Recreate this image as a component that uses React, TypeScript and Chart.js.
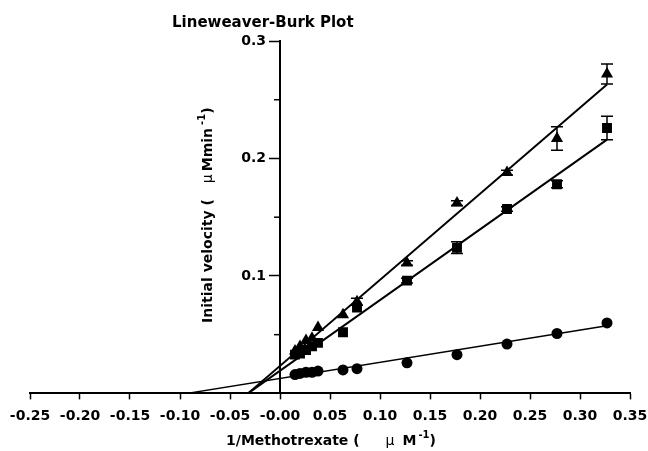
import React, { useEffect, useRef } from 'react';
import { Chart, registerables } from 'chart.js';

Chart.register(...registerables);

// ---- data ----
const xInvConc = [0.327, 0.277, 0.227, 0.177, 0.127, 0.077, 0.063, 0.038, 0.032, 0.026, 0.020, 0.015];
const triangleV = [0.272, 0.217, 0.188, 0.162, 0.111, 0.078, 0.067, 0.056, 0.047, 0.045, 0.040, 0.036];
const triangleErr = [0.0085, 0.010, 0.002, 0.002, 0.002, 0.003, 0, 0, 0, 0, 0, 0];
const squareV = [0.226, 0.178, 0.157, 0.124, 0.096, 0.073, 0.052, 0.043, 0.040, 0.037, 0.034, 0.033];
const squareErr = [0.010, 0.003, 0.002, 0.005, 0.002, 0, 0, 0, 0, 0, 0, 0];
const circleV = [0.060, 0.051, 0.042, 0.033, 0.026, 0.021, 0.020, 0.019, 0.018, 0.018, 0.017, 0.016];
const circleErr = [0, 0, 0, 0, 0, 0, 0, 0, 0, 0, 0, 0];

const triangleFitX = [-0.032, 0.327];
const triangleFitY = [0, 0.263];
const squareFitX = [-0.032, 0.327];
const squareFitY = [0, 0.216];
const circleFitX = [-0.093, 0.33];
const circleFitY = [0, 0.058];

const yLabelValues = [0.1, 0.2, 0.3];
const yMinorValues = [0.05, 0.15, 0.25];

const chartTitle = 'Lineweaver-Burk Plot';

const FAMILY = 'DejaVu Sans';
const tickFont = { family: FAMILY, size: 14, weight: 'bold' as const };

type Run = { t?: string; font?: string; dy?: number; gap?: number };

function runsWidth(ctx: CanvasRenderingContext2D, runs: Run[]) {
  let w = 0;
  for (const r of runs) {
    if (r.gap) { w += r.gap; continue; }
    ctx.font = r.font as string;
    w += ctx.measureText(r.t as string).width;
  }
  return w;
}

function drawRuns(ctx: CanvasRenderingContext2D, runs: Run[], cx: number, cy: number) {
  const w = runsWidth(ctx, runs);
  let x = cx - w / 2;
  ctx.textAlign = 'left';
  ctx.textBaseline = 'middle';
  for (const r of runs) {
    if (r.gap) { x += r.gap; continue; }
    ctx.font = r.font as string;
    ctx.fillText(r.t as string, x, cy + (r.dy || 0));
    x += ctx.measureText(r.t as string).width;
  }
}

const B14 = `bold 14px "${FAMILY}"`;
const N14 = `14px "${FAMILY}"`;
const B10 = `bold 10px "${FAMILY}"`;

const xTitleRuns: Run[] = [
  { t: '1/Methotrexate (', font: B14 },
  { gap: 26 },
  { t: 'μ', font: N14 },
  { gap: 8 },
  { t: 'M', font: B14 },
  { gap: 2 },
  { t: '-1', font: B10, dy: -6 },
  { t: ')', font: B14 },
];

const yTitleRuns: Run[] = [
  { t: 'Initial velocity (', font: B14 },
  { gap: 16 },
  { t: 'μ', font: N14 },
  { gap: 3 },
  { t: 'Mmin', font: B14 },
  { gap: 3 },
  { t: '-1', font: B10, dy: -6 },
  { t: ')', font: B14 },
];

const decorPlugin = {
  id: 'decor',
  afterDatasetsDraw(chart: any) {
    const ctx: CanvasRenderingContext2D = chart.ctx;
    const xs = chart.scales.x;
    const ys = chart.scales.y;
    ctx.save();
    // error bars
    ctx.strokeStyle = '#000';
    ctx.lineWidth = 1.5;
    const series: [number[], number[]][] = [
      [triangleV, triangleErr],
      [squareV, squareErr],
      [circleV, circleErr],
    ];
    for (const [vals, errs] of series) {
      vals.forEach((v, i) => {
        const e = errs[i];
        if (!e) return;
        const px = xs.getPixelForValue(xInvConc[i]);
        const top = ys.getPixelForValue(v + e);
        const bot = ys.getPixelForValue(v - e);
        ctx.beginPath();
        ctx.moveTo(px, top);
        ctx.lineTo(px, bot);
        ctx.moveTo(px - 6, top);
        ctx.lineTo(px + 6, top);
        ctx.moveTo(px - 6, bot);
        ctx.lineTo(px + 6, bot);
        ctx.stroke();
      });
    }
    // minor y ticks
    const axisX = xs.getPixelForValue(0);
    ctx.lineWidth = 1.5;
    for (const m of yMinorValues) {
      const py = ys.getPixelForValue(m);
      ctx.beginPath();
      ctx.moveTo(axisX - 6, py);
      ctx.lineTo(axisX, py);
      ctx.stroke();
    }
    ctx.restore();
  },
  afterDraw(chart: any) {
    const ctx: CanvasRenderingContext2D = chart.ctx;
    const xs = chart.scales.x;
    const ys = chart.scales.y;
    ctx.save();
    ctx.fillStyle = '#000';
    // y tick labels (axis sits inside the plot at x = 0)
    const axisX = xs.getPixelForValue(0);
    ctx.font = B14;
    ctx.textAlign = 'right';
    ctx.textBaseline = 'middle';
    for (const v of yLabelValues) {
      ctx.fillText(v.toFixed(1), axisX - 14, ys.getPixelForValue(v));
    }
    // chart title
    ctx.font = `bold 15px "${FAMILY}"`;
    ctx.textAlign = 'left';
    ctx.textBaseline = 'alphabetic';
    ctx.fillText(chartTitle, xs.getPixelForValue(-0.108), 27);
    // x title
    drawRuns(ctx, xTitleRuns, (xs.left + xs.right) / 2 + 1, 441);
    // y title
    ctx.translate(xs.getPixelForValue(-0.072), (ys.top + ys.bottom) / 2 - 2);
    ctx.rotate(-Math.PI / 2);
    drawRuns(ctx, yTitleRuns, 0, 0);
    ctx.restore();
  },
};

export default function App() {
  const ref = useRef<HTMLCanvasElement | null>(null);
  useEffect(() => {
    if (!ref.current) return;
    const mk = (vals: number[]) => vals.map((y, i) => ({ x: xInvConc[i], y }));
    const fit = (xs: number[], ys: number[]) => xs.map((x, i) => ({ x, y: ys[i] }));
    const chart = new Chart(ref.current, {
      type: 'scatter',
      data: {
        datasets: [
          {
            label: 'triangle',
            data: mk(triangleV),
            pointStyle: 'triangle',
            pointRadius: 7,
            backgroundColor: '#000',
            borderColor: '#000',
            borderWidth: 0,
          },
          {
            label: 'square',
            data: mk(squareV),
            pointStyle: 'rect',
            pointRadius: 7,
            backgroundColor: '#000',
            borderColor: '#000',
            borderWidth: 0,
          },
          {
            label: 'circle',
            data: mk(circleV),
            pointStyle: 'circle',
            pointRadius: 5.5,
            backgroundColor: '#000',
            borderColor: '#000',
            borderWidth: 0,
          },
          {
            label: 'triangle fit',
            data: fit(triangleFitX, triangleFitY),
            showLine: true,
            pointRadius: 0,
            borderColor: '#000',
            borderWidth: 2,
          },
          {
            label: 'square fit',
            data: fit(squareFitX, squareFitY),
            showLine: true,
            pointRadius: 0,
            borderColor: '#000',
            borderWidth: 2,
          },
          {
            label: 'circle fit',
            data: fit(circleFitX, circleFitY),
            showLine: true,
            pointRadius: 0,
            borderColor: '#000',
            borderWidth: 1.5,
          },
        ],
      },
      options: {
        responsive: false,
        animation: false,
        layout: { padding: { left: 30, right: 18, top: 41, bottom: 18 } },
        plugins: {
          legend: { display: false },
          tooltip: { enabled: false },
          title: { display: false },
        },
        scales: {
          x: {
            type: 'linear',
            min: -0.25,
            max: 0.35,
            ticks: {
              stepSize: 0.05,
              color: '#000',
              font: { ...tickFont, lineHeight: 2.4 },
              padding: 0,
              maxRotation: 0,
              autoSkip: false,
              callback: (v: any) => (Math.abs(Number(v)) < 1e-9 ? '-0.00' : Number(v).toFixed(2)),
            },
            grid: {
              drawOnChartArea: false,
              drawTicks: true,
              tickLength: 6,
              tickColor: '#000',
              tickWidth: 1.5,
            },
            border: { display: true, color: '#000', width: 2 },
          },
          y: {
            type: 'linear',
            min: 0,
            max: 0.3,
            position: { x: 0 } as any,
            ticks: {
              stepSize: 0.05,
              display: false,
              autoSkip: false,
            },
            grid: {
              drawOnChartArea: false,
              drawTicks: true,
              tickLength: 10,
              tickWidth: 1.5,
              tickColor: (c: any) =>
                c.tick && yLabelValues.some((l) => Math.abs(l - c.tick.value) < 1e-6) ? '#000' : 'rgba(0,0,0,0)',
            },
            border: { display: true, color: '#000', width: 2 },
          },
        },
      },
      plugins: [decorPlugin],
    });
    return () => chart.destroy();
  }, []);
  return (
    <div style={{ position: 'absolute', left: 0, top: 0, width: 648, height: 451, background: '#fff' }}>
      <canvas ref={ref} width={648} height={451} style={{ display: 'block' }} />
    </div>
  );
}
